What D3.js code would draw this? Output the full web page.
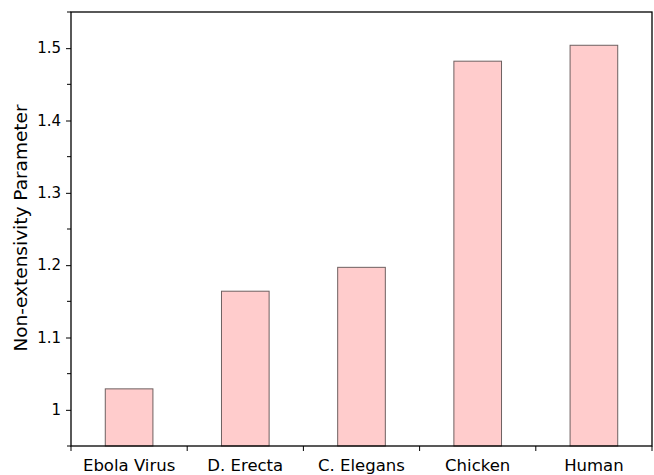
<!DOCTYPE html>
<html>
<head>
    <meta charset="utf-8">
    <title>non_extensivity_bars</title>
    <script src="https://d3js.org/d3.v7.min.js"></script>
    <style>
        body { margin: 0; background: #fff; }
        text { font-family: "DejaVu Sans", sans-serif; fill: #000; }
    </style>
</head>
<body>
    <svg width="654" height="475"></svg>
    <script>
        // Data
        var categories = ["Ebola Virus", "D. Erecta", "C. Elegans", "Chicken", "Human"];
        var values = [1.029, 1.164, 1.197, 1.482, 1.504];
        var yTicks = [1, 1.1, 1.2, 1.3, 1.4, 1.5];
        var yMinorTicks = [0.95, 1.05, 1.15, 1.25, 1.35, 1.45, 1.55];

        var svg = d3.select("svg");

        // Plot area
        var plotLeft = 71, plotRight = 652, plotTop = 12, plotBottom = 446;

        var x = d3.scaleBand()
            .domain(categories)
            .range([plotLeft, plotRight]);

        var y = d3.scaleLinear()
            .domain([0.95, 1.55])
            .range([plotBottom, plotTop]);

        var barWidth = x.bandwidth() * 0.41;

        // Bars
        svg.selectAll("rect.bar")
            .data(values)
            .enter()
            .append("rect")
            .attr("class", "bar")
            .attr("x", function(d, i) { return x(categories[i]) + x.bandwidth() / 2 - barWidth / 2; })
            .attr("y", function(d) { return y(d); })
            .attr("width", barWidth)
            .attr("height", function(d) { return plotBottom - y(d); })
            .attr("fill", "#ffcccc")
            .attr("stroke", "#6e6060")
            .attr("stroke-width", 1);

        // Frame
        svg.append("rect")
            .attr("x", plotLeft)
            .attr("y", plotTop)
            .attr("width", plotRight - plotLeft)
            .attr("height", plotBottom - plotTop)
            .attr("fill", "none")
            .attr("stroke", "#000")
            .attr("stroke-width", 1.3);

        // Y axis with major ticks
        var yAxis = svg.append("g")
            .attr("transform", "translate(" + plotLeft + ",0)")
            .call(d3.axisLeft(y).tickValues(yTicks).tickSize(5).tickPadding(5)
                .tickFormat(function(d) { return d3.format("~g")(d); }));
        yAxis.select(".domain").remove();
        yAxis.selectAll("text").style("font-size", "15px").style("font-family", "DejaVu Sans");
        yAxis.selectAll("line").attr("stroke", "#000");

        // Y minor ticks
        svg.append("g")
            .selectAll("line")
            .data(yMinorTicks)
            .enter()
            .append("line")
            .attr("x1", plotLeft - 4)
            .attr("x2", plotLeft)
            .attr("y1", function(d) { return y(d); })
            .attr("y2", function(d) { return y(d); })
            .attr("stroke", "#000");

        // X axis: ticks at category boundaries
        var bounds = categories.map(function(c) { return x(c); }).concat([plotRight]);
        svg.append("g")
            .selectAll("line")
            .data(bounds)
            .enter()
            .append("line")
            .attr("x1", function(d) { return d; })
            .attr("x2", function(d) { return d; })
            .attr("y1", plotBottom)
            .attr("y2", plotBottom + 5)
            .attr("stroke", "#000");

        svg.append("g")
            .selectAll("text")
            .data(categories)
            .enter()
            .append("text")
            .attr("x", function(d) { return x(d) + x.bandwidth() / 2; })
            .attr("y", 471)
            .attr("text-anchor", "middle")
            .style("font-size", "16.5px")
            .text(function(d) { return d; });

        // Y label
        svg.append("text")
            .attr("transform", "translate(27," + 228 + ") rotate(-90)")
            .attr("text-anchor", "middle")
            .style("font-size", "18.5px")
            .text("Non-extensivity Parameter");
    </script>
</body>
</html>
